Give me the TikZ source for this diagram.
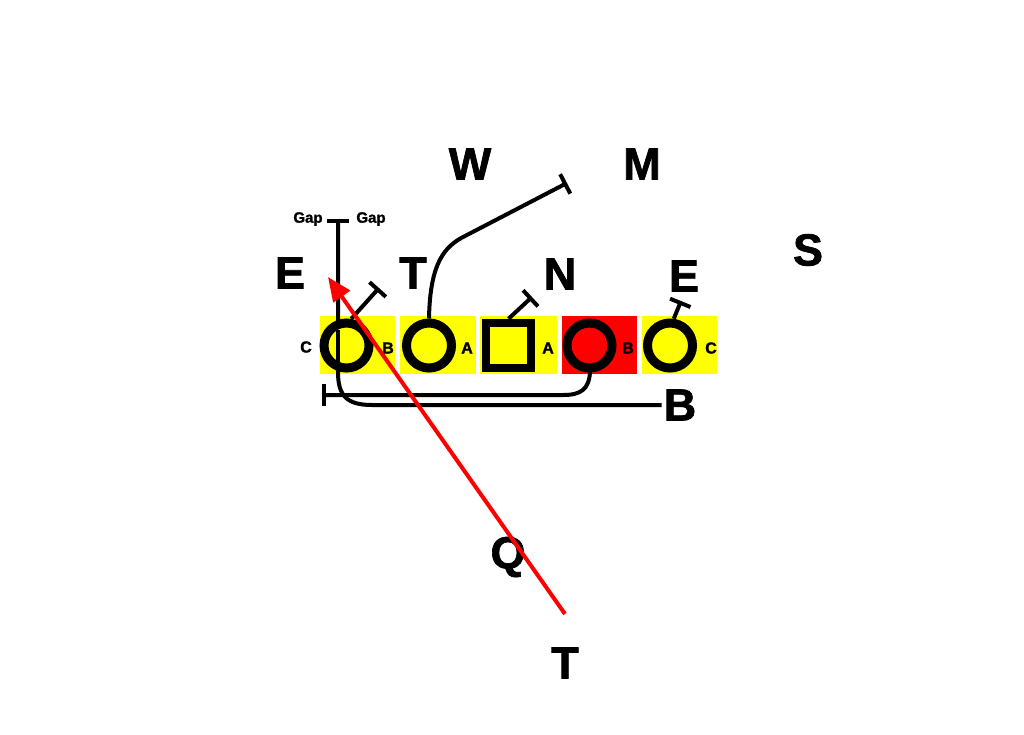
\documentclass[tikz,border=0pt]{standalone}
\usepackage{fontspec}
\setmainfont{Liberation Sans}[BoldFont={Liberation Sans Bold}]
\newfontfamily\heavyfont{Liberation Sans Bold}[FakeBold=1.5]
\usetikzlibrary{arrows.meta}
\definecolor{pyellow}{RGB}{255,255,0}
\definecolor{pred}{RGB}{255,0,0}
\begin{document}
\begin{tikzpicture}[x=1pt,y=-1pt,
  big/.style={inner sep=0pt, font=\heavyfont\fontsize{45}{45}\selectfont},
  small/.style={inner sep=0pt, font=\heavyfont\fontsize{16}{16}\selectfont},
  gapl/.style={inner sep=0pt, font=\heavyfont\fontsize{15}{15}\selectfont},
  zone/.style={fill=pyellow, draw=none},
  player/.style={circle, draw=black, line width=9pt, minimum size=45pt, inner sep=0pt, fill=pyellow},
  center/.style={rectangle, draw=black, line width=8.5pt, minimum size=45pt, inner sep=0pt, fill=pyellow},
  route/.style={draw=black, line width=4pt},
  block/.style={route, -{Bar[width=22pt]}},
  rush/.style={draw=pred, line width=4pt, -{Triangle[length=24pt,width=20pt]}}
]
\useasboundingbox (0,0) rectangle (1024,734);
\fill[white] (0,0) rectangle (1024,734);
% zones
\fill[zone] (320,316) rectangle (395,374);
\fill[zone] (400,316) rectangle (476,374);
\fill[zone] (480,316) rectangle (557,374);
\fill[pred] (562,316) rectangle (637,374);
\fill[zone] (642,316) rectangle (717,374);
% gap labels in zones
\node[small] (lc1) at (306,347) {C};
\node[small] (lb1) at (388,348) {B};
\node[small] (la1) at (467,348) {A};
\node[small] (la2) at (548,348) {A};
\node[small] (lb2) at (628,348) {B};
\node[small] (lc2) at (711,348) {C};
% routes under players
\coordinate (gap) at (338,219);
\coordinate (rcend) at (322,395);
\node[big] (B) at (680,405) {B};
\draw[block] ([xshift=-2pt]B.west) -- (372,405) .. controls (346,405) and (338,395) .. (338,372) -- (gap);
\draw[route, -{Bar[width=22pt]}] (590,372) .. controls (589,390) and (580,395) .. (563,395) -- (rcend);
% players
\node[player] (c1) at (346.5,345.5) {};
\node[player] (c2) at (429,345.5) {};
\node[center] (sq) at (508.5,345.5) {};
\node[player, fill=pred] (rc) at (589.5,345.5) {};
\node[player] (c5) at (670,345.5) {};
% vertical line over circle 1
\draw[route] (338,372) -- (338,330);
% gap labels at top
\node[gapl] (gapL) at (308,219) {Gap};
\node[gapl] (gapR) at (371,219) {Gap};
% blocks
\coordinate (b1) at (379,288);
\coordinate (b2) at (567,183);
\coordinate (b3) at (532,297);
\coordinate (b5) at (681,301);
\draw[block] (c1.80) -- (b1);
\draw[block] (c2.north) .. controls (430,262) and (445,246) .. (465,236) -- (b2);
\draw[block] (sq.north) -- (b3);
\draw[block] (c5.82) -- (b5);
% defenders
\node[big] (W) at (470,164) {W};
\node[big] (M) at (642,164) {M};
\node[big] (S) at (808,250) {S};
\node[big] (E1) at (290,273) {E};
\node[big] (T1) at (413,273) {T};
\node[big] (N) at (560,274) {N};
\node[big] (E2) at (684,276) {E};
\node[big] (Q) at (508,557) {Q};
\node[big] (T2) at (565,663) {T};
% red rush arrow
\coordinate (rs) at (565,614);
\coordinate (re) at (328,277);
\draw[rush] (rs) -- (re);
\end{tikzpicture}
\end{document}
